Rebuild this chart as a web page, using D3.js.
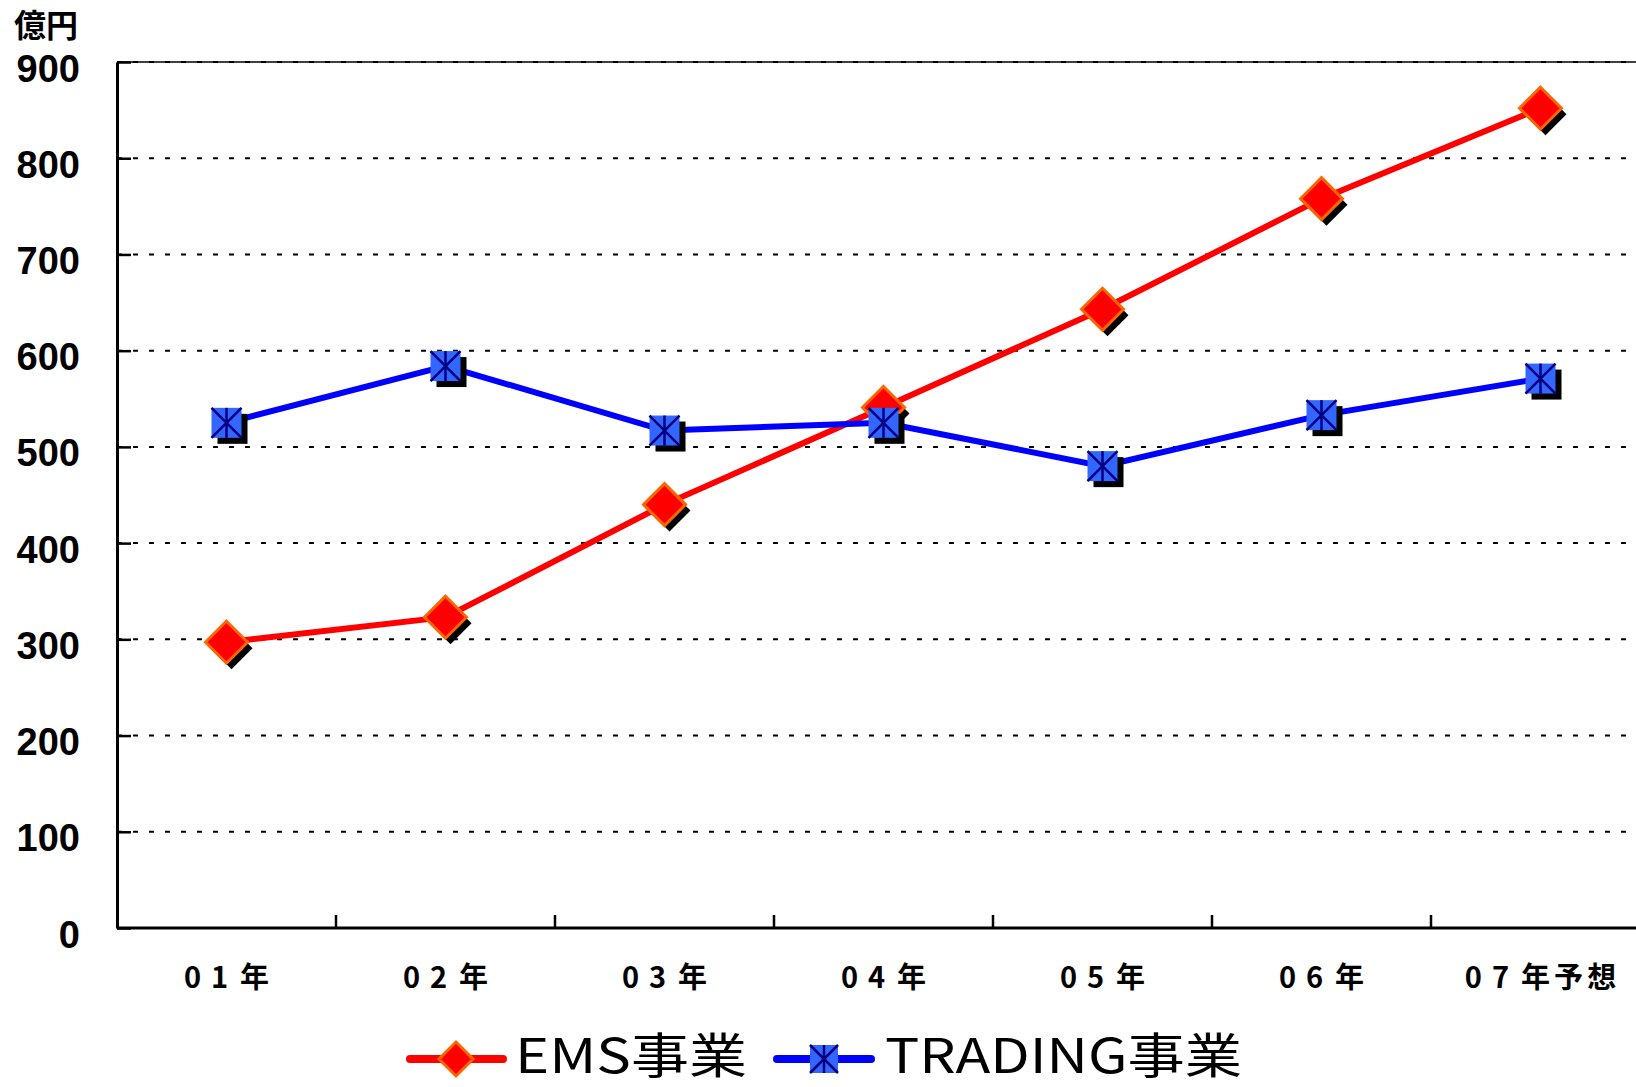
<!DOCTYPE html>
<html>
<head>
<meta charset="utf-8">
<script src="https://cdn.jsdelivr.net/npm/d3@7"></script>
<style>
  html, body { margin: 0; padding: 0; background: #fff; }
  svg { display: block; }
</style>
</head>
<body>
<svg id="chart" width="1636" height="1087"></svg>
<script>
const categories = ["01年", "02年", "03年", "04年", "05年", "06年", "07年予想"];
const emsValues = [297, 323, 440, 541, 643, 758, 852];
const tradingValues = [525, 584, 517, 525, 480, 533, 571];
const yTicks = [0, 100, 200, 300, 400, 500, 600, 700, 800, 900];
const seriesNames = ["EMS事業", "TRADING事業"];
const unitLabel = "億円";

(function () {
const FONT = "'Noto Sans CJK JP', 'Noto Sans', sans-serif";
const NUMFONT = "'Liberation Sans', Arial, sans-serif";
const svg = d3.select("#chart");

const pL = 117, pR = 1650, pT = 62, pB = 928;
const x = d3.scaleBand().domain(categories).range([pL, pR]);
const y = d3.scaleLinear().domain([0, 900]).range([pB, pT]);
const cx = c => x(c) + x.bandwidth() / 2;

// gridlines
svg.append("g").selectAll("line").data(yTicks.filter(d => d > 0)).join("line")
  .attr("x1", pL).attr("x2", pR)
  .attr("y1", d => y(d)).attr("y2", d => y(d))
  .attr("stroke", "#000").attr("stroke-width", 2)
  .attr("stroke-dasharray", "5,11");

// top border
svg.append("line").attr("x1", pL).attr("x2", pR)
  .attr("y1", y(900)).attr("y2", y(900))
  .attr("stroke", "#000").attr("stroke-width", 1.5);

// y axis
const yAxis = d3.axisLeft(y).tickValues(yTicks).tickSize(-14).tickSizeOuter(0).tickPadding(0);
const gy = svg.append("g").attr("transform", `translate(${pL},0)`).call(yAxis);
gy.select(".domain").attr("stroke", "#000").attr("stroke-width", 3);
gy.selectAll(".tick line").attr("stroke", "#000").attr("stroke-width", 2.5);
gy.selectAll(".tick text")
  .attr("x", 80 - pL).attr("dy", "0").attr("y", 19)
  .attr("text-anchor", "end")
  .style("font-family", NUMFONT).style("font-weight", "bold").style("font-size", "38px")
  .attr("fill", "#000");

// x axis line
svg.append("line").attr("x1", pL).attr("x2", pR)
  .attr("y1", pB).attr("y2", pB)
  .attr("stroke", "#000").attr("stroke-width", 3);

// x boundary ticks (inside)
svg.append("g").selectAll("line").data(categories.slice(1)).join("line")
  .attr("x1", d => x(d)).attr("x2", d => x(d))
  .attr("y1", pB).attr("y2", pB - 13)
  .attr("stroke", "#000").attr("stroke-width", 2.5);

// x labels (per-character spacing to mimic the wide original font)
function spacing(label) {
  const ch = Array.from(label);
  return ch.map((c, i) => {
    if (i === 0) return 0;
    const prevDigit = /[0-9]/.test(ch[i - 1]);
    const curDigit = /[0-9]/.test(c);
    if (prevDigit && curDigit) return 10;
    if (prevDigit && !curDigit) return 12;
    return 4;
  }).join(" ");
}
const xAxis = d3.axisBottom(x).tickSize(0).tickPadding(0);
const gx = svg.append("g").attr("transform", `translate(0,${pB})`).call(xAxis);
gx.select(".domain").remove();
gx.selectAll(".tick text")
  .attr("y", 60).attr("dy", null)
  .attr("dx", d => spacing(d))
  .style("font-family", FONT).style("font-weight", "bold").style("font-size", "29px")
  .attr("fill", "#000");

// unit label
svg.append("text").attr("x", 14).attr("y", 37).text(unitLabel)
  .style("font-family", FONT).style("font-weight", "bold").style("font-size", "32px")
  .attr("fill", "#000");

// lines
const lineGen = d3.line().x((d, i) => cx(categories[i])).y(d => y(d));
svg.append("path").datum(emsValues).attr("d", lineGen)
  .attr("fill", "none").attr("stroke", "#FF0000").attr("stroke-width", 6);
svg.append("path").datum(tradingValues).attr("d", lineGen)
  .attr("fill", "none").attr("stroke", "#0000FF").attr("stroke-width", 6);

function diamond(g, px, py, r, shadow) {
  const pts = [[px, py - r], [px + r, py], [px, py + r], [px - r, py]];
  if (shadow) {
    g.append("polygon").attr("points", pts.map(p => [p[0] + 5, p[1] + 6].join(",")).join(" "))
      .attr("fill", "#000");
  }
  g.append("polygon").attr("points", pts.map(p => p.join(",")).join(" "))
    .attr("fill", "#FF0000").attr("stroke", "#FF6600").attr("stroke-width", 3);
}
function square(g, px, py, h, shadow) {
  if (shadow) {
    g.append("rect").attr("x", px - h + 6).attr("y", py - h + 6)
      .attr("width", 2 * h).attr("height", 2 * h).attr("fill", "#000");
  }
  g.append("rect").attr("x", px - h).attr("y", py - h)
    .attr("width", 2 * h).attr("height", 2 * h).attr("fill", "#3366FF");
  const st = "#000080";
  g.append("line").attr("x1", px).attr("x2", px).attr("y1", py - h).attr("y2", py + h)
    .attr("stroke", st).attr("stroke-width", 2.5);
  g.append("line").attr("x1", px - h).attr("x2", px + h).attr("y1", py - h).attr("y2", py + h)
    .attr("stroke", st).attr("stroke-width", 2.5);
  g.append("line").attr("x1", px + h).attr("x2", px - h).attr("y1", py - h).attr("y2", py + h)
    .attr("stroke", st).attr("stroke-width", 2.5);
}

const gm = svg.append("g");
emsValues.forEach((v, i) => diamond(gm, cx(categories[i]), y(v), 21, true));
tradingValues.forEach((v, i) => square(gm, cx(categories[i]), y(v), 15, true));

// legend
const lg = svg.append("g");
const ly = 1059;
lg.append("line").attr("x1", 410).attr("x2", 503).attr("y1", ly).attr("y2", ly)
  .attr("stroke", "#FF0000").attr("stroke-width", 8).attr("stroke-linecap", "round");
diamond(lg, 456, ly, 17, false);
lg.append("text").attr("x", 515).attr("y", 1073).text(seriesNames[0])
  .attr("textLength", 232).attr("lengthAdjust", "spacingAndGlyphs")
  .style("font-family", FONT).style("font-size", "48px").attr("fill", "#000");

lg.append("line").attr("x1", 777).attr("x2", 871).attr("y1", ly).attr("y2", ly)
  .attr("stroke", "#0000FF").attr("stroke-width", 8).attr("stroke-linecap", "round");
square(lg, 824, ly, 14, false);
lg.append("text").attr("x", 885).attr("y", 1073).text(seriesNames[1])
  .attr("textLength", 357).attr("lengthAdjust", "spacingAndGlyphs")
  .style("font-family", FONT).style("font-size", "48px").attr("fill", "#000");
})();
</script>
</body>
</html>
